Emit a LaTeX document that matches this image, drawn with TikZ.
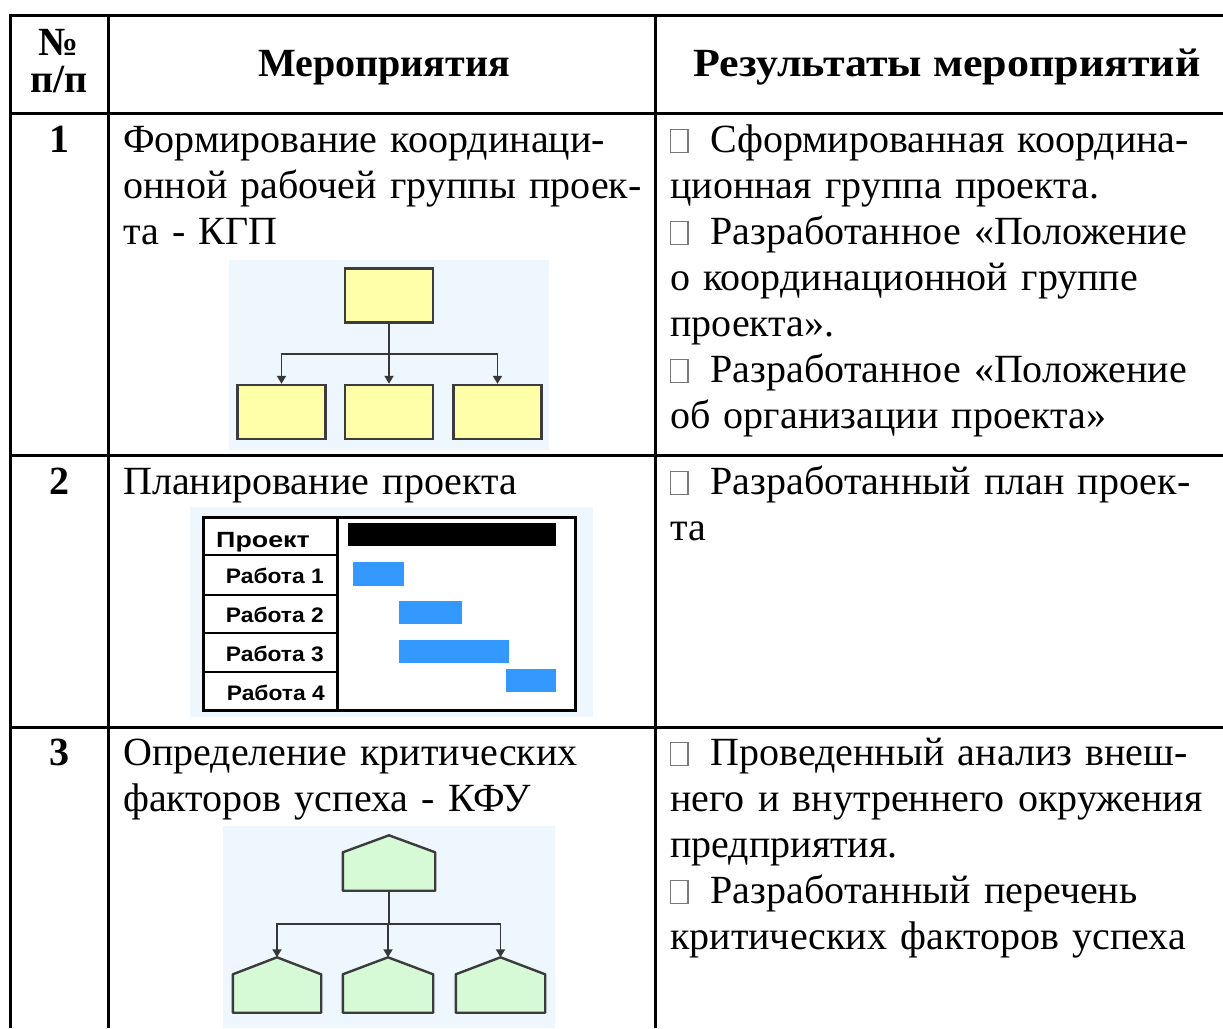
\documentclass[tikz,border=0pt]{standalone}
\usepackage{fontspec}
\usepackage{graphicx}
\setmainfont{Liberation Serif}
\newfontfamily\ganttfont{Liberation Sans}
\usetikzlibrary{arrows.meta,calc}
\definecolor{bgblue}{RGB}{238,246,254}
\definecolor{ylw}{RGB}{255,255,170}
\definecolor{grn}{RGB}{214,249,214}
\definecolor{boxedge}{RGB}{60,60,60}
\definecolor{lineclr}{RGB}{55,55,55}
\definecolor{barblue}{RGB}{51,153,255}
\definecolor{sqgray}{RGB}{120,120,120}
\newcommand\sqbox{\textcolor{sqgray}{\fboxsep=0pt\fboxrule=1.2pt\fbox{\rule{0pt}{22pt}\hspace{16pt}}}\hspace{22pt}}
\tikzset{
 tline/.style={line width=3pt, black},
 hdr/.style={font=\bfseries\fontsize{40}{44}\selectfont, inner sep=0},
 cell/.style={anchor=base west, inner sep=0, text width=600pt, align=left, font=\fontsize{40}{46}\selectfont},
 ybox/.style={draw=boxedge, fill=ylw, line width=2.4pt, minimum width=88pt, minimum height=54pt, inner sep=0},
 hshape/.style={inner sep=0, minimum height=55pt},
 houseline/.style={draw=boxedge, fill=grn, line width=2.4pt, line join=round},
 conn/.style={draw=lineclr, line width=1.8pt},
 arr/.style={conn, -{Triangle[length=8pt,width=9pt]}},
 glab/.style={font=\ganttfont\bfseries\fontsize{20}{20}\selectfont, inner sep=0},
 bar/.style={fill=barblue, draw=none}
}
\begin{document}
\begin{tikzpicture}[x=1pt,y=-1pt]
\useasboundingbox (0,0) rectangle (1223,1028);
\fill[white] (0,0) rectangle (1223,1028);

% ---------- table rules ----------
\draw[tline] (8.5,15) -- (1223,15);
\draw[tline] (8.5,113) -- (1223,113);
\draw[tline] (8.5,455) -- (1223,455);
\draw[tline] (8.5,727) -- (1223,727);
\draw[tline] (10,13.5) -- (10,1028);
\draw[tline] (108,13.5) -- (108,1028);
\draw[tline] (655,13.5) -- (655,1028);

% ---------- header ----------
\node[hdr, anchor=base] (hno) at (59,55) {№};
\node[hdr, anchor=base] (hpp) at (59,92) {п/п};
\node[hdr, anchor=base] (hmer) at (384,76) {Мероприятия};
\node[hdr, anchor=base] (hres) at (947,76) {\scalebox{1.1}[1]{Результаты мероприятий}};

% ---------- row numbers ----------
\node[hdr, anchor=base] (n1) at (59,152) {1};
\node[hdr, anchor=base] (n2) at (59,494) {2};
\node[hdr, anchor=base] (n3) at (59,765) {3};

% ---------- column 2 ----------
\node[cell] (m1) at (123,152) {Формирование координаци-\\онной рабочей группы проек-\\та - КГП};
\node[cell] (m2) at (123,494) {Планирование проекта};
\node[cell] (m3) at (123,765) {Определение критических\\факторов успеха - КФУ};

% ---------- column 3 ----------
\node[cell] (r1) at (670,152) {\sqbox Сформированная координа-\\ционная группа проекта.\\\sqbox Разработанное «Положение\\о координационной группе\\проекта».\\\sqbox Разработанное «Положение\\об организации проекта»};
\node[cell] (r2) at (670,494) {\sqbox Разработанный план проек-\\та};
\node[cell] (r3) at (670,765) {\sqbox Проведенный анализ внеш-\\него и внутреннего окружения\\предприятия.\\\sqbox Разработанный перечень\\критических факторов успеха};

% ---------- picture 1: org chart ----------
\fill[bgblue] (229,260) rectangle (549,450);
\node[ybox] (t1) at (389,295.5) {};
\node[ybox] (b1) at (281.5,412) {};
\node[ybox] (b2) at (389,412) {};
\node[ybox] (b3) at (497.5,412) {};
\coordinate (j1) at (389,354);
\draw[conn] (t1.south) -- (j1);
\draw[arr] (j1) -| (b1.north);
\draw[arr] (j1) -- (b2.north);
\draw[arr] (j1) -| (b3.north);

% ---------- picture 2: Gantt chart ----------
\fill[bgblue] (190,507) rectangle (593,717);
\draw[line width=3pt, fill=white] (203,517) rectangle (575,710);
\draw[line width=3pt] (337,517) -- (337,710);
\draw[line width=2.5pt] (203,555) -- (337,555);
\draw[line width=2.5pt] (203,595) -- (337,595);
\draw[line width=2.5pt] (203,633) -- (337,633);
\draw[line width=2.5pt] (203,672) -- (337,672);
\node[glab, anchor=base west, font=\ganttfont\bfseries\fontsize{22}{22}\selectfont] (gp) at (216,547) {\scalebox{1.22}[1]{Проект}};
\node[glab, anchor=base east] (g1) at (324,583) {\scalebox{1.14}[1.05]{Работа 1}};
\node[glab, anchor=base east] (g2) at (324,622) {\scalebox{1.14}[1.05]{Работа 2}};
\node[glab, anchor=base east] (g3) at (324,661) {\scalebox{1.14}[1.05]{Работа 3}};
\node[glab, anchor=base east] (g4) at (325,700) {\scalebox{1.14}[1.05]{Работа 4}};
\fill[black] (348,523) rectangle (556,546);
\fill[bar] (353,562) rectangle (404,586);
\fill[bar] (399,601) rectangle (462,624);
\fill[bar] (399,640) rectangle (509,663);
\fill[bar] (506,669) rectangle (556,692);

% ---------- picture 3: critical factors ----------
\fill[bgblue] (223,826) rectangle (555,1028);
\node[hshape, minimum width=92pt] (p0) at (389,863) {};
\node[hshape, minimum width=88pt] (q1) at (277,985) {};
\node[hshape, minimum width=90pt] (q2) at (388,985) {};
\node[hshape, minimum width=89pt] (q3) at (500.5,985) {};
\foreach \h in {p0,q1,q2,q3}{
  \draw[houseline] (\h.south west) -- ($(\h.north west)+(0,17)$) -- (\h.north) -- ($(\h.north east)+(0,17)$) -- (\h.south east) -- cycle;
}
\coordinate (j2) at (389,924);
\draw[conn] (p0.south) -- (j2);
\draw[arr] (j2) -| (q1.north);
\draw[arr] (j2) -| (q2.north);
\draw[arr] (j2) -| (q3.north);
\end{tikzpicture}
\end{document}
